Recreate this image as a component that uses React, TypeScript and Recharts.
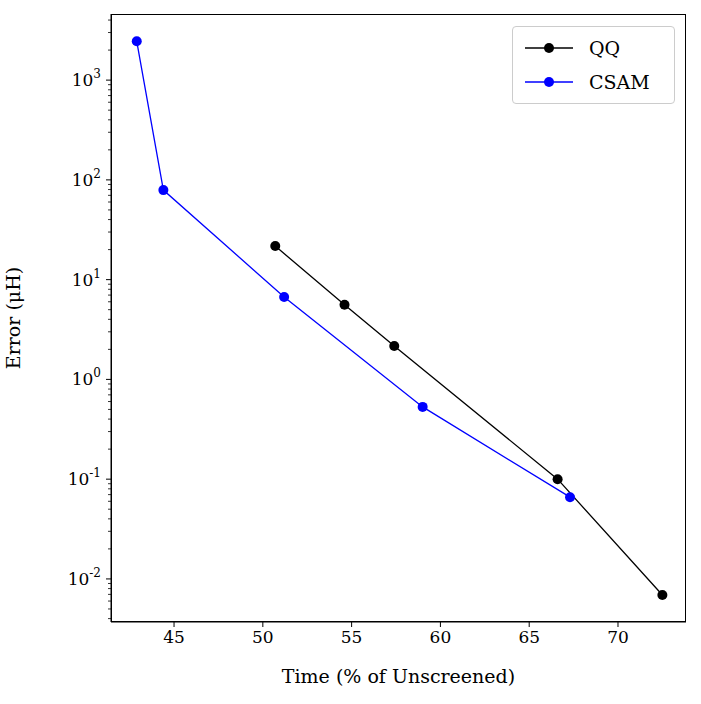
import React from 'react';
import { LineChart, Line, XAxis, YAxis } from 'recharts';

const qqTime = [50.7, 54.6, 57.4, 66.6, 72.5];
const qqError = [21.7, 5.6, 2.16, 0.1, 0.0069];
const csamTime = [42.9, 44.4, 51.2, 59.0, 67.3];
const csamError = [2450, 79, 6.7, 0.53, 0.066];
const xTicks = [45, 50, 55, 60, 65, 70];

const qqData = qqTime.map((x, i) => ({ x, y: qqError[i] }));
const csamData = csamTime.map((x, i) => ({ x, y: csamError[i] }));

const yTicks: number[] = [];
[-3, -2, -1, 0, 1, 2, 3].forEach(d => {
  for (let m = 1; m <= 9; m++) {
    const v = m * Math.pow(10, d);
    if (v > 0.0037 && v < 4600) yTicks.push(v);
  }
});

const font = 'DejaVu Serif';

const YTick = ({ x, y, payload }: any) => {
  const lg = Math.log10(payload.value);
  const major = Math.abs(lg - Math.round(lg)) < 1e-6;
  if (!major) return <line x1={x} x2={x - 3} y1={y} y2={y} stroke="#000" strokeWidth={0.8} />;
  return (
    <g>
      <line x1={x} x2={x - 5} y1={y} y2={y} stroke="#000" strokeWidth={1} />
      <text x={x - 10} y={y + 6} textAnchor="end" fontFamily={font} fontSize={17} fill="#000">
        10<tspan dy={-8} fontSize={12}>{Math.round(lg)}</tspan>
      </text>
    </g>
  );
};

const LegendBox = () => (
  <div style={{ position: 'absolute', left: 512, top: 26, border: '1px solid #ccc', borderRadius: 4, background: '#fff', padding: '4px 8px', fontFamily: font, fontSize: 19, width: 145 }}>
    {[['QQ', '#000'], ['CSAM', '#0000ff']].map(([n, c]) => (
      <div key={n} style={{ display: 'flex', alignItems: 'center', height: 34 }}>
        <svg width={56} height={12}>
          <line x1={4} x2={52} y1={6} y2={6} stroke={c} strokeWidth={1.3} />
          <circle cx={28} cy={6} r={5} fill={c} />
        </svg>
        <span style={{ marginLeft: 12 }}>{n}</span>
      </div>
    ))}
  </div>
);

export default function App() {
  return (
    <div style={{ position: 'absolute', left: 0, top: 0, width: 701, height: 704, background: '#fff' }}>
      <LineChart width={701} height={704} margin={{ top: 14, right: 15, bottom: 50, left: 51 }}>
        <XAxis xAxisId="b" type="number" dataKey="x" domain={[41.45, 73.83]} ticks={xTicks}
          tickSize={5} tickMargin={4} height={32} stroke="#000" allowDataOverflow
          tick={{ fill: '#000', fontFamily: font, fontSize: 17 }}
          label={{ value: 'Time (% of Unscreened)', position: 'insideBottom', offset: -29, fill: '#000', fontFamily: font, fontSize: 19 }} />
        <YAxis yAxisId="l" type="number" dataKey="y" scale="log" domain={[0.0037, 4600]} ticks={yTicks}
          tickLine={false} tickSize={0} tickMargin={0} width={60} stroke="#000" allowDataOverflow
          tick={<YTick />} interval={0}
          label={{ value: 'Error (μH)', angle: -90, position: 'insideLeft', offset: -38, fill: '#000', fontFamily: font, fontSize: 19, style: { textAnchor: 'middle' } }} />
        <Line xAxisId="b" yAxisId="l" data={qqData} dataKey="y" name="QQ" stroke="#000" strokeWidth={1.3}
          dot={{ r: 5, fill: '#000', stroke: '#000', strokeWidth: 0 }} isAnimationActive={false} />
        <Line xAxisId="b" yAxisId="l" data={csamData} dataKey="y" name="CSAM" stroke="#0000ff" strokeWidth={1.3}
          dot={{ r: 5, fill: '#0000ff', stroke: '#0000ff', strokeWidth: 0 }} isAnimationActive={false} />
      </LineChart>
      <div style={{ position: 'absolute', left: 111, top: 14, width: 575, height: 608, border: '1px solid #000', boxSizing: 'border-box', pointerEvents: 'none' }} />
      <LegendBox />
    </div>
  );
}
